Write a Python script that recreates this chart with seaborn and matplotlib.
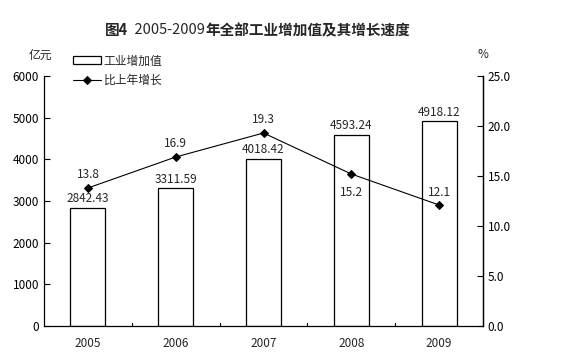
import matplotlib
matplotlib.use("Agg")
import matplotlib.pyplot as plt
import seaborn as sns
import pandas as pd
import numpy as np

years = ["2005", "2006", "2007", "2008", "2009"]
values = [2842.43, 3311.59, 4018.42, 4593.24, 4918.12]
growth = [13.8, 16.9, 19.3, 15.2, 12.1]
left_ticks = [0, 1000, 2000, 3000, 4000, 5000, 6000]
right_ticks = [0.0, 5.0, 10.0, 15.0, 20.0, 25.0]

sns.set_style("white")
plt.rcParams['font.family'] = ['Noto Sans CJK SC', 'DejaVu Sans']

df = pd.DataFrame({"year": years, "value": values, "growth": growth})

fig = plt.figure(figsize=(5.65, 3.6), dpi=100)
ax = fig.add_axes([44/565, 1-326/360, (483-44)/565, 250/360])

sns.barplot(data=df, x="year", y="value", ax=ax, color="white",
            edgecolor="black", linewidth=0.9, width=0.4, label="工业增加值")
ax.set_xlim(-0.5, 4.5)
ax.set_ylim(0, 6000)
ax.set_yticks(left_ticks)
ax.set_yticklabels([str(t) for t in left_ticks], fontsize=8.5)
ax.set_xlabel("")
ax.set_ylabel("")
ax.set_xticks(np.arange(len(years)))
ax.set_xticklabels(years, fontsize=8.5)
ax.tick_params(axis='x', length=0, pad=8)
for xm in np.arange(0.5, 4.5, 1.0):
    ax.plot([xm, xm], [0, 80], color="black", lw=0.8, clip_on=False)
ax.tick_params(axis='y', direction='in', length=4, width=0.8, colors='black', left=True)
for s in ["left", "bottom", "right"]:
    ax.spines[s].set_color("black")
    ax.spines[s].set_linewidth(0.9)
ax.spines["top"].set_visible(False)

for i, v in enumerate(values):
    ax.text(i, v + 60, f"{v:.2f}", ha="center", va="bottom", fontsize=8.5)

ax2 = ax.twinx()
sns.lineplot(data=df, x="year", y="growth", ax=ax2, color="black", lw=0.8,
             marker="D", markersize=4, markeredgecolor="black", label="比上年增长", sort=False)
ax2.set_ylim(0, 25)
ax2.set_yticks(right_ticks)
ax2.set_yticklabels([f"{t:.1f}" for t in right_ticks], fontsize=8.5)
ax2.set_ylabel("")
ax2.tick_params(axis='y', direction='in', length=4, width=0.8, colors='black', right=True)
ax2.spines["top"].set_visible(False)
ax2.spines["right"].set_color("black")
ax2.spines["right"].set_linewidth(0.9)
ax2.spines["left"].set_visible(False)
ax2.spines["bottom"].set_visible(False)

offsets = [1.35, 1.35, 1.35, -1.9, 1.3]
for i, g in enumerate(growth):
    ax2.text(i, g + offsets[i], f"{g:.1f}", ha="center", va="center", fontsize=8.5)

# legend
h1, l1 = ax.get_legend_handles_labels()
h2, l2 = ax2.get_legend_handles_labels()
if ax2.get_legend():
    ax2.get_legend().remove()
if ax.get_legend():
    ax.get_legend().remove()
leg = ax2.legend(h1[:1] + h2[:1], ["工业增加值", "比上年增长"], loc="upper left",
                 bbox_to_anchor=(0.055, 1.105), frameon=False, fontsize=8.5,
                 handlelength=2.4, handletextpad=0.2, labelspacing=0.55, borderaxespad=0)

fig.text(52/565, 1-55/360, "亿元", ha="right", va="center", fontsize=8.5)
fig.text(478/565, 1-55/360, "%", ha="left", va="center", fontsize=8.5)

# title with mixed weights
t1 = fig.text(105/565, 1-30/360, "图4", ha="left", va="center", fontsize=10.5, fontweight="bold")
ann2 = fig.text(0, 0.5, "  2005-2009", va="center", ha="left", fontsize=10.5, fontweight="normal")
ann2.remove()
ann2 = plt.annotate("  2005-2009", xy=(1, 0.5), xycoords=t1, va="center", ha="left",
                    fontsize=10.5, fontweight="normal", annotation_clip=False)
ann3 = plt.annotate("年全部工业增加值及其增长速度", xy=(1, 0.5), xycoords=ann2, va="center", ha="left",
                    fontsize=10.5, fontweight="bold", annotation_clip=False)

fig.savefig("out.png", dpi=100)
